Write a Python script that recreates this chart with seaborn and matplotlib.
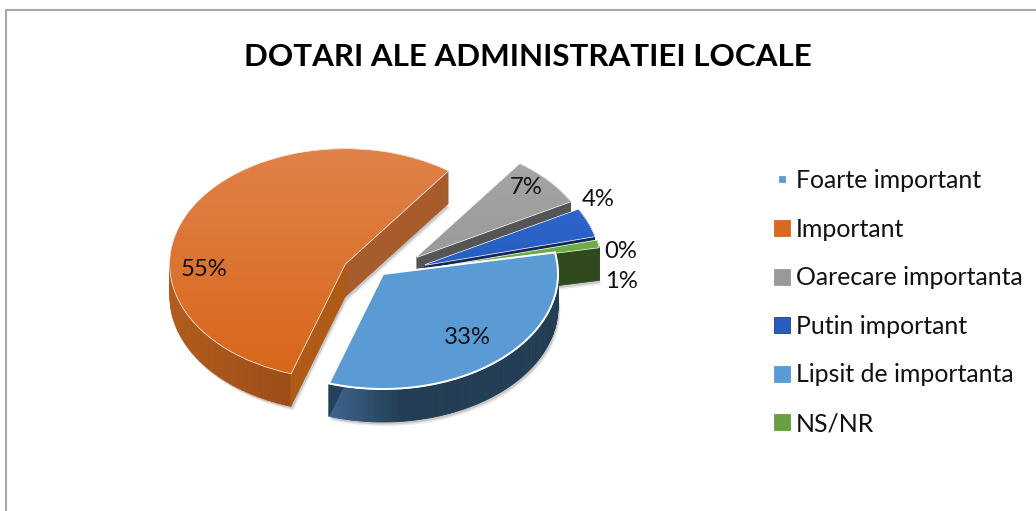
import numpy as np
import matplotlib
matplotlib.use("Agg")
import matplotlib.pyplot as plt
from matplotlib.colors import to_rgb, LinearSegmentedColormap
from matplotlib.lines import Line2D
from matplotlib.patches import Wedge
import seaborn as sns

# ---- data -------------------------------------------------------------
title = "DOTARI ALE ADMINISTRATIEI LOCALE"
legend_labels = ["Foarte important", "Important", "Oarecare importanta",
                 "Putin important", "Lipsit de importanta", "NS/NR"]
legend_values = [0, 55, 7, 4, 33, 1]
# order of the slices round the pie (clockwise)
pie_order = [0, 1, 2, 3, 5, 4]

# ---- style ------------------------------------------------------------
sns.set_theme(style="white")
plt.rcParams["font.family"] = ["Lato", "DejaVu Sans"]

W, H = 1036, 511
legend_colors = ["#5B9BD5", "#D9691F", "#999999", "#2A5CBE", "#5B9BD5", "#66A03F"]
palette = sns.color_palette(legend_colors)
top_light = ["#5B9BD5", "#E08148", "#A6A6A6", "#2F6BD6", "#5B9BD5", "#74B04C"]
top_dark = ["#5B9BD5", "#D8661A", "#909090", "#2352AC", "#5B9BD5", "#6AA842"]
wall_left = ["#3A5F85", "#B25C1E", "#5A5A5A", "#14285C", "#3E6590", "#2E481C"]
wall_right = ["#24405A", "#7E3B0C", "#4E4E4E", "#14285C", "#233E54", "#34501F"]
face_low = ["#24405A", "#A85C2C", "#555555", "#14285C", "#24405A", "#30491D"]
face_high = ["#24405A", "#B05A18", "#555555", "#14285C", "#24405A", "#30491D"]
apex = {1: (345, 264), 2: (417, 257), 3: (425, 265), 5: (427, 269), 4: (383, 274)}
label_px = {0: (621, 251), 1: (204, 270), 2: (526, 188), 3: (598, 200),
            4: (467, 338), 5: (621, 281)}
R = 175
K = 115 / 175
DEPTH = 33
START = 252


def yd(py):
    return (H - py) / K


fig = plt.figure(figsize=(W / 100, H / 100), dpi=100, facecolor="white")
ax = fig.add_axes([0, 0, 1, 1])

wedges, _ = ax.pie([legend_values[i] for i in pie_order],
                   colors=[palette[i] for i in pie_order],
                   startangle=START, counterclock=False, radius=R)
ax.set_aspect("auto")
ax.set_xlim(0, W)
ax.set_ylim(0, H / K)
ax.axis("off")

d = DEPTH / K
for z, (w, i) in enumerate(zip(wedges, pie_order)):
    if legend_values[i] == 0:
        w.set_visible(False)
        continue
    cx, cy = apex[i][0], yd(apex[i][1])
    w.set_center((cx, cy))
    base = 10 * (z + 1)
    w.set_zorder(base + 5)
    t1, t2 = w.theta1, w.theta2

    # soft shadow beneath the slice
    for off, al in ((4, .12), (2.5, .22)):
        ax.add_patch(Wedge((cx + off * .6, cy - d - off / K), R, t1, t2,
                           fc="#555555", ec="none", alpha=al, zorder=base))

    # rim wall, back to front
    ang = np.radians(np.linspace(t1, t2, 121))
    xs = cx + R * np.cos(ang)
    ys = cy + R * np.sin(ang)
    lo, hi = xs.min(), xs.max()
    cl, cr = np.array(to_rgb(wall_left[i])), np.array(to_rgb(wall_right[i]))
    order = np.argsort(-np.sin((ang[:-1] + ang[1:]) / 2))
    for j in order:
        f = ((xs[j] + xs[j + 1]) / 2 - lo) / max(hi - lo, 1)
        if i == 4:
            f = min(1, f * 3.2)
        ax.fill([xs[j], xs[j + 1], xs[j + 1], xs[j]],
                [ys[j], ys[j + 1], ys[j + 1] - d, ys[j] - d],
                color=cl + (cr - cl) * f, lw=.6, zorder=base + 1)

    # the two cut faces
    for a, col in ((t1, face_low[i]), (t2, face_high[i])):
        ex, ey = cx + R * np.cos(np.radians(a)), cy + R * np.sin(np.radians(a))
        ax.fill([cx, ex, ex, cx], [cy, ey, ey - d, cy - d],
                color=col, lw=.5, zorder=base + 2)

    # top surface: vertical gradient clipped by the wedge
    cmap = LinearSegmentedColormap.from_list("g", [top_light[i], top_dark[i]])
    im = ax.imshow(np.linspace(0, 1, 64)[:, None], cmap=cmap, aspect="auto",
                   extent=(cx - R, cx + R, cy - R, cy + R), origin="upper",
                   zorder=base + 6)
    im.set_clip_path(w)
    if i == 4:
        ax.add_patch(Wedge((cx, cy), R, t1, t2, fc="none", ec="white",
                           lw=1.4, zorder=base + 7))

ax.set_xlim(0, W)
ax.set_ylim(0, H / K)

# value labels
for i, (px, py) in label_px.items():
    ax.text(px, yd(py), f"{legend_values[i]}%", ha="center", va="center",
            fontsize=17.2, color="#111111", zorder=200)

# chart frame (top and left edges only)
ax.plot([6, 6, W], [0, yd(10), yd(10)], color="#A6A6A6", lw=1.5, zorder=1,
        solid_joinstyle="miter")

# legend
sizes = [5, 11.5, 11.5, 11.5, 11.5, 11.5]
handles = [Line2D([], [], ls="none", marker="s", ms=s, mfc=c,
                  mec="#1F3F80" if n == 3 else c, mew=.6)
           for n, (s, c) in enumerate(zip(sizes, palette))]
ax.legend(handles, legend_labels, loc="upper left",
          bbox_to_anchor=(771 / W, 1 - 169 / H), frameon=False, fontsize=17.9,
          labelspacing=1.03, handlelength=0.9, handletextpad=0.105,
          borderpad=0, borderaxespad=0, labelcolor="#111111")

fig.suptitle(title, x=528 / W, y=1 - 57 / H, va="center", ha="center",
             fontsize=22.6, fontweight="bold", color="black")
fig.savefig("out.png", dpi=100)
